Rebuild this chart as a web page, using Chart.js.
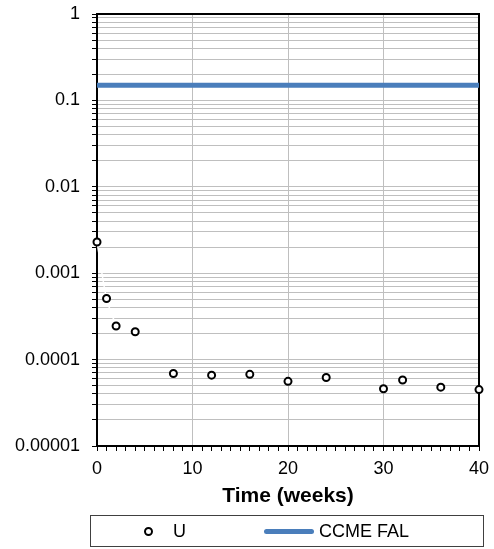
<!DOCTYPE html>
<html>
<head>
<meta charset="utf-8">
<title>U over time</title>
<script src="https://cdn.jsdelivr.net/npm/chart.js@4"></script>
<style>
    body { margin: 0; background: #fff; overflow: hidden; }
    #wrap { position: relative; width: 494px; height: 549px; }
    #chart { position: absolute; left: 0; top: 0; }
    #legend {
        position: absolute; left: 90px; top: 515px; width: 394px; height: 32px;
        box-sizing: border-box; border: 1px solid #404040;
        display: flex; align-items: center;
        font: 18px "Liberation Sans", Arial, sans-serif; color: #000;
    }
    .item { display: flex; align-items: center; }
    .dot { width: 5px; height: 5px; border: 2px solid #000; border-radius: 50%; background: #fff; }
    .bar { width: 50px; height: 5px; border-radius: 3px; }
</style>
</head>
<body>
<div id="wrap">
    <canvas id="chart" width="494" height="549"></canvas>
    <div id="legend"></div>
</div>
<script>
// sampling times (weeks) and measured U
const weeks = [0, 1, 2, 4, 8, 12, 16, 20, 24, 30, 32, 36, 40];
const uranium = [0.0023, 0.00051, 0.000245, 0.00021, 0.000069, 0.000066, 0.0000675, 0.000056, 0.000062, 0.000046, 0.000058, 0.000048, 0.000045];

// CCME FAL guideline line
const falWeeks = [0, 40];
const falValues = [0.15, 0.15];

const yTickLabels = ["0.00001", "0.0001", "0.001", "0.01", "0.1", "1"];
const xTickLabels = ["0", "10", "20", "30", "40"];

const toPoints = (xs, ys) => xs.map((x, i) => ({x: x, y: ys[i]}));

Chart.defaults.font.family = '"Liberation Sans", Arial, sans-serif';
Chart.defaults.font.size = 18;
Chart.defaults.color = "#000";

// box around the plot area
const frame = {
    id: "frame",
    beforeDatasetsDraw(chart) {
        const {ctx, chartArea: a} = chart;
        ctx.save();
        ctx.strokeStyle = "#000";
        ctx.lineWidth = 2;
        ctx.strokeRect(a.left, a.top, a.right - a.left, a.bottom - a.top);
        ctx.restore();
    },
};

// legend drawn as html below the canvas
const htmlLegend = {
    id: "htmlLegend",
    afterUpdate(chart) {
        const box = document.getElementById("legend");
        box.innerHTML = "";
        const gaps = [53, 78];
        let n = 0;
        chart.data.datasets.forEach((ds) => {
            if (ds.hideInLegend) return;
            const item = document.createElement("div");
            item.className = "item";
            item.style.marginLeft = gaps[n++] + "px";
            const mark = document.createElement("span");
            if (ds.showLine) {
                mark.className = "bar";
                mark.style.background = ds.borderColor;
                mark.style.marginRight = "5px";
            } else {
                mark.className = "dot";
                mark.style.marginRight = "20px";
            }
            const text = document.createElement("span");
            text.textContent = ds.label;
            item.appendChild(mark);
            item.appendChild(text);
            box.appendChild(item);
        });
    },
};

new Chart(document.getElementById("chart"), {
    type: "scatter",
    data: {
        datasets: [
            {
                label: "U",
                data: toPoints(weeks, uranium),
                showLine: false,
                pointStyle: "circle",
                pointRadius: 3.5,
                pointBorderWidth: 2,
                borderColor: "#000",
                backgroundColor: "#fff",
                clip: false,
            },
            {
                label: "U trend",
                hideInLegend: true,
                data: toPoints(weeks.slice(0, 3), uranium.slice(0, 3)),
                showLine: true,
                borderColor: "#fff",
                borderWidth: 1.5,
                tension: 0.3,
                pointRadius: 0,
            },
            {
                label: "CCME FAL",
                data: toPoints(falWeeks, falValues),
                showLine: true,
                borderColor: "#4a7ebb",
                backgroundColor: "#4a7ebb",
                borderWidth: 5,
                pointRadius: 0,
            },
        ],
    },
    options: {
        responsive: false,
        animation: false,
        events: [],
        layout: {padding: {top: 14, right: 15, bottom: 40, left: 0}},
        plugins: {legend: {display: false}, tooltip: {enabled: false}},
        scales: {
            x: {
                type: "linear",
                min: 0,
                max: 40,
                afterFit: (scale) => {
                    scale.height = 63;
                    scale.paddingLeft = 0;
                    scale.paddingRight = 0;
                },
                ticks: {
                    stepSize: 1,
                    autoSkip: false,
                    maxRotation: 0,
                    padding: 7,
                    callback: (v) => (v % 10 === 0 ? xTickLabels[v / 10] : ""),
                },
                grid: {
                    color: (c) => (c.tick && c.tick.value % 10 === 0 ? "#bfbfbf" : "rgba(0,0,0,0)"),
                    lineWidth: 1,
                    tickColor: "#000",
                    tickLength: 5,
                    tickWidth: 1,
                },
                border: {color: "#000", width: 2},
                title: {
                    display: true,
                    text: "Time (weeks)",
                    font: {size: 21, weight: "bold"},
                    padding: 0,
                },
            },
            y: {
                type: "logarithmic",
                min: 0.00001,
                max: 1,
                afterFit: (scale) => {
                    scale.width = 97;
                    scale.paddingTop = 0;
                    scale.paddingBottom = 0;
                },
                afterBuildTicks: (scale) => {
                    const ticks = [];
                    for (let e = -5; e <= 0; e++) {
                        for (let k = 1; k <= 9; k++) {
                            const v = k * Math.pow(10, e);
                            if (v <= 1.0000001) ticks.push({value: v});
                        }
                    }
                    scale.ticks = ticks;
                },
                ticks: {
                    autoSkip: false,
                    padding: 12,
                    callback: (v) => {
                        const p = Math.log10(v);
                        if (Math.abs(p - Math.round(p)) > 1e-6) return "";
                        return yTickLabels[Math.round(p) + 5];
                    },
                },
                grid: {
                    color: "#bfbfbf",
                    lineWidth: 1,
                    tickColor: "#000",
                    tickLength: 5,
                    tickWidth: 1,
                },
                border: {color: "#000", width: 2},
            },
        },
    },
    plugins: [frame, htmlLegend],
});
</script>
</body>
</html>
